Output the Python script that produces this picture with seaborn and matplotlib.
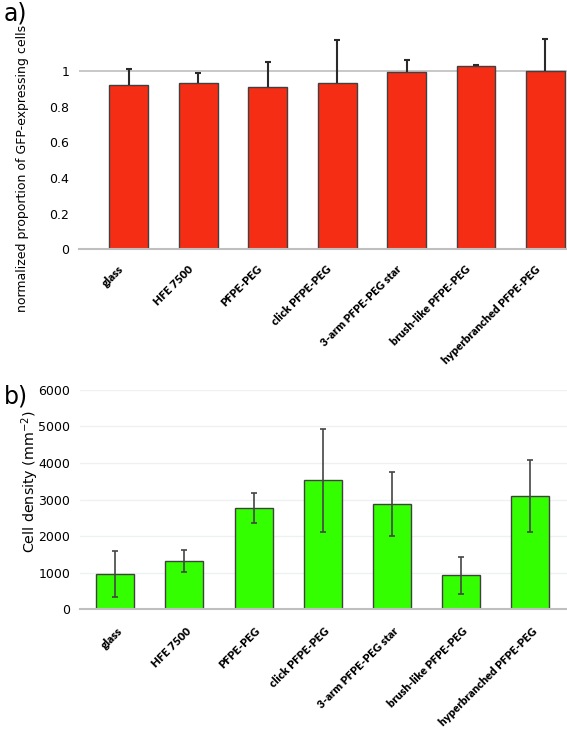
import matplotlib
matplotlib.use("Agg")
import matplotlib.pyplot as plt
import matplotlib.transforms as mtransforms
import seaborn as sns
import numpy as np

# data
surfaces = ["glass", "HFE 7500", "PFPE-PEG", "click PFPE-PEG",
            "3-arm PFPE-PEG star", "brush-like PFPE-PEG", "hyperbranched PFPE-PEG"]
gfp_mean = [0.921, 0.934, 0.910, 0.934, 0.996, 1.026, 1.000]
gfp_err_up = [0.090, 0.056, 0.142, 0.238, 0.064, 0.009, 0.180]
density_mean = [959, 1315, 2767, 3525, 2877, 922, 3096]
density_err = [630, 300, 405, 1410, 880, 495, 985]

red = "#F52D14"
green = "#33FF00"
edge = "#404040"
axis_gray = "#BFBFBF"

sns.set_theme(style="white")
plt.rcParams["font.family"] = ["DejaVu Sans"]
plt.rcParams["text.color"] = "black"
plt.rcParams["axes.labelcolor"] = "black"

fig = plt.figure(figsize=(5.67, 7.33), dpi=100)
ax1 = fig.add_axes([0.139, 0.660, 0.861, 0.292])
ax2 = fig.add_axes([0.141, 0.169, 0.859, 0.299])

# panel a
sns.barplot(x=surfaces, y=gfp_mean, color=red, width=0.56, edgecolor=edge,
            linewidth=1, saturation=1, errorbar=None, ax=ax1)
eb = ax1.errorbar(np.arange(len(surfaces)), gfp_mean,
                  yerr=[np.zeros(len(surfaces)), gfp_err_up],
                  fmt="none", ecolor="#2a2a2a", elinewidth=1.5, capsize=2.5, capthick=1.5)
eb.lines[1][0].remove()  # drop the lower caps, only upper whiskers shown
ax1.axhline(1, color=axis_gray, lw=1.2, zorder=0)
ax1.set_ylim(0, 1.2)
ax1.set_yticks([0, 0.2, 0.4, 0.6, 0.8, 1])
ax1.set_yticklabels(["0", "0.2", "0.4", "0.6", "0.8", "1"])
ax1.set_xlim(-0.72, 6.31)
ax1.set_ylabel("normalized proportion of GFP-expressing cells", fontsize=9.0)
ax1.yaxis.set_label_coords(-0.102, 0.378)

# panel b
sns.barplot(x=surfaces, y=density_mean, color=green, width=0.55, edgecolor=edge,
            linewidth=1, saturation=1, errorbar=None, ax=ax2)
ax2.errorbar(np.arange(len(surfaces)), density_mean, yerr=density_err,
             fmt="none", ecolor="#454545", elinewidth=1.2, capsize=2.5, capthick=1.2)
ax2.set_ylim(0, 6000)
ax2.set_yticks(range(0, 6001, 1000))
ax2.yaxis.grid(True, color="#EEF0F4", lw=1)
ax2.set_axisbelow(True)
ax2.set_xlim(-0.51, 6.53)
ax2.set_ylabel("Cell density (mm$^{-2}$)", fontsize=10.3)
ax2.yaxis.set_label_coords(-0.080, 0.58)

# tick label offsets (px) differ slightly between the two panels
for ax, dx, pad in ((ax1, -7, 13), (ax2, 5, 14.5)):
    for s in ("left", "right", "top"):
        ax.spines[s].set_visible(False)
    ax.spines["bottom"].set_color(axis_gray)
    ax.spines["bottom"].set_linewidth(1.5)
    ax.tick_params(axis="both", length=0, labelsize=9, colors="black")
    ax.tick_params(axis="y", pad=7)
    ax.set_xlabel("")
    ax.set_xticks(range(len(surfaces)))
    ax.set_xticklabels(surfaces, rotation=45, ha="right", va="center",
                       rotation_mode="anchor", fontsize=8.2, fontweight="heavy",
                       family=["Lato", "DejaVu Sans"])
    ax.tick_params(axis="x", pad=pad)
    shift = mtransforms.ScaledTranslation(dx / 100, 0, fig.dpi_scale_trans)
    for lab in ax.get_xticklabels():
        lab.set_transform(lab.get_transform() + shift)

fig.text(0.006, 0.998, "a)", fontsize=17, va="top", ha="left")
fig.text(0.006, 0.476, "b)", fontsize=17, va="top", ha="left")

fig.savefig("out.png", dpi=100)
